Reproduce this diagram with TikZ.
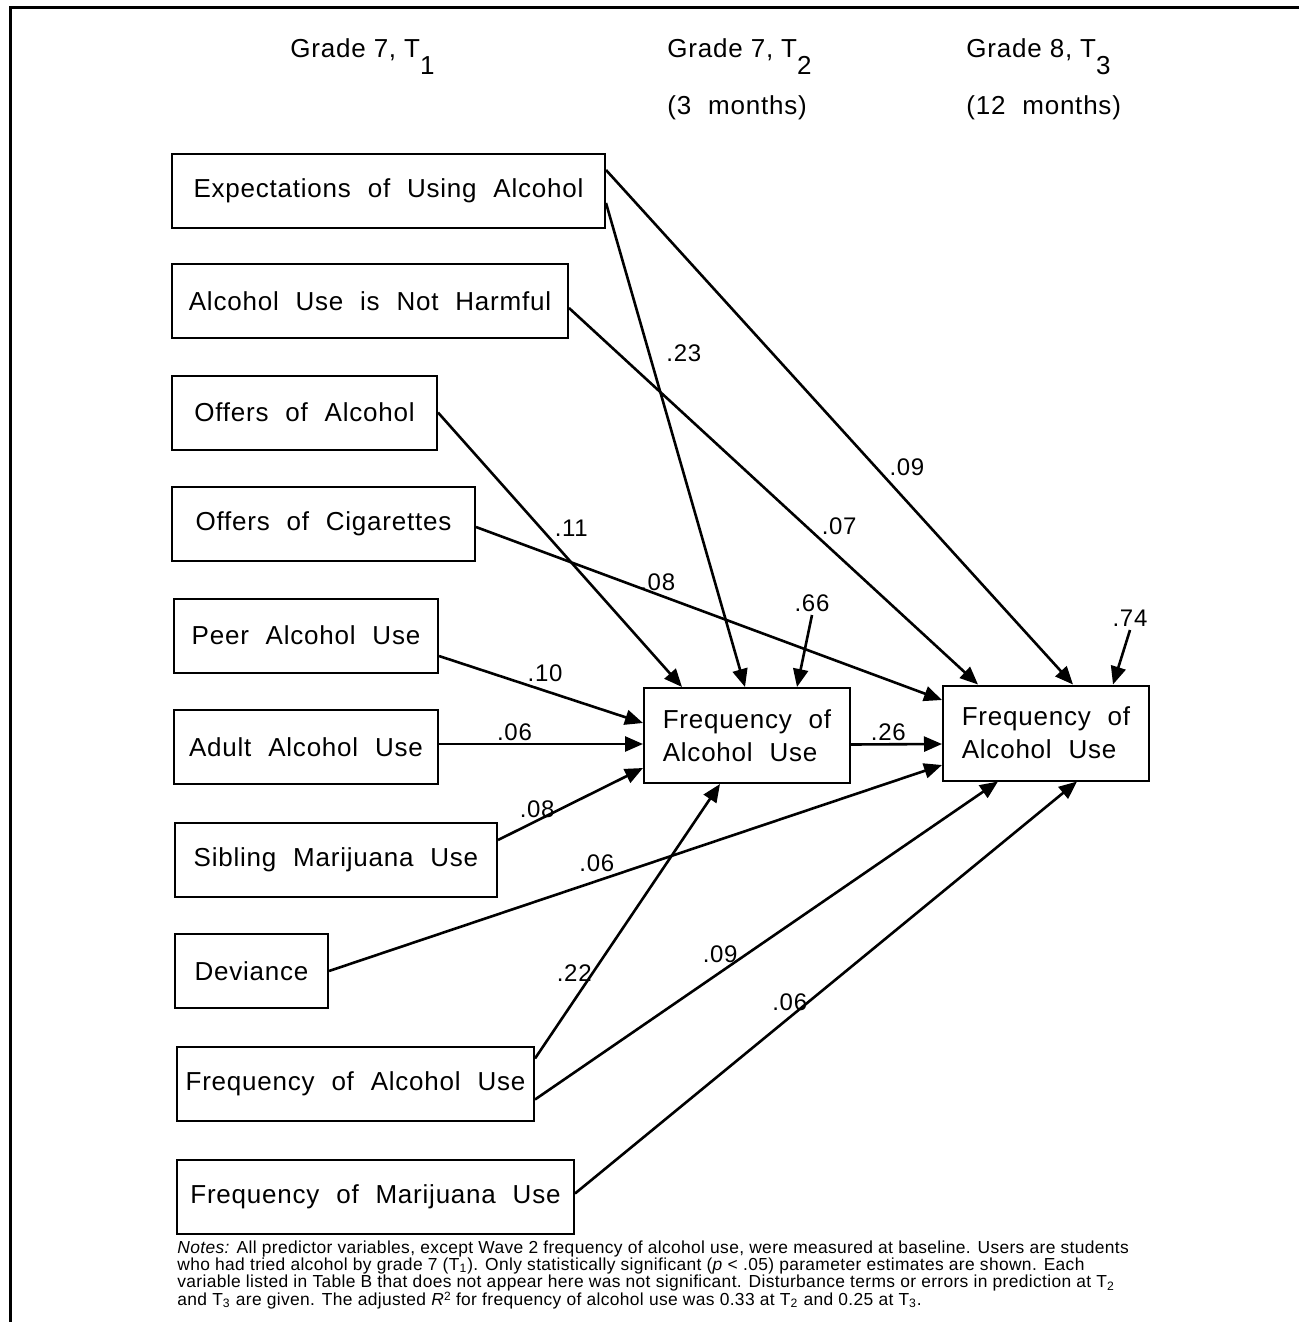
\documentclass[tikz,border=0pt]{standalone}
\usepackage{fontspec}
\setmainfont{Liberation Sans}[LetterSpace=3]
\newfontfamily\boxfont{Liberation Sans}[LetterSpace=3,WordSpace=2.1]
\newfontfamily\notefont{Liberation Sans}[LetterSpace=2]
\newcommand\notesize{\notefont\fontsize{8.7}{8.7}\selectfont\lineskiplimit=-10pt\relax}
\newcommand\sqsup{\raisebox{2.3pt}{\fontsize{6}{6}\selectfont 2}}
\usetikzlibrary{arrows.meta,positioning}

\begin{document}
\begin{tikzpicture}[x=0.5pt,y=-0.5pt,
	var/.style={draw,line width=1pt,minimum height=37pt,inner sep=0pt,font=\boxfont\fontsize{13}{16.5}\selectfont},
	freq/.style={var,minimum width=103pt,minimum height=47.5pt,align=left},
	head/.style={anchor=base west,inner sep=0pt,font=\fontsize{13}{14}\selectfont},
	path/.style={line width=1.3pt,-{Triangle[length=9pt,width=7.5pt]}},
	coef/.style={font=\fontsize{12}{14}\selectfont,inner sep=1pt}]
		\useasboundingbox (0,0) rectangle (1299,1322);
		\draw[line width=1.5pt] (10,1322)--(10,8)--(1299,8);
		% time points
		\node[head] (gradeone) at (290,58) {Grade 7, T\raisebox{-8.5pt}{1}};
		\node[head] (gradetwo) at (667,58) {Grade 7, T\raisebox{-8.5pt}{2}};
		\node[head,font=\boxfont\fontsize{13}{14}\selectfont] (monthstwo) at (667,115) {(3 months)};
		\node[head] (gradethree) at (966,58) {Grade 8, T\raisebox{-8.5pt}{3}};
		\node[head,font=\boxfont\fontsize{13}{14}\selectfont] (monthsthree) at (966,115) {(12 months)};
		% predictors
		\node[var,minimum width=216.5pt] (expect) at (388.5,191) {Expectations of Using Alcohol};
		\node[var,minimum width=198pt] (harm) at (370,301) {Alcohol Use is Not Harmful};
		\node[var,minimum width=132.5pt] (offalc) at (304.5,412.5) {Offers of Alcohol};
		\node[var,minimum width=151.5pt] (offcig) at (323.5,524) {Offers of Cigarettes};
		\node[var,minimum width=132pt] (peer) at (306,635.5) {Peer Alcohol Use};
		\node[var,minimum width=132pt] (adult) at (306,747) {Adult Alcohol Use};
		\node[var,minimum width=161pt] (sibmar) at (336,859.5) {Sibling Marijuana Use};
		\node[var,minimum width=76.5pt] (dev) at (251.5,971) {Deviance};
		\node[var,minimum width=178.5pt] (freqalc) at (355.5,1083.5) {Frequency of Alcohol Use};
		\node[var,minimum width=198.5pt] (freqmar) at (375.5,1196.5) {Frequency of Marijuana Use};
		% outcomes
		\node[freq] (alctwo) at (747,735.5) {Frequency of\\Alcohol Use};
		\node[freq] (alcthree) at (1046,733) {Frequency of\\Alcohol Use};
		\coordinate (dtwo) at (812,615);
		\coordinate (dthree) at (1130,630);
		% paths
		\draw[path] ([yshift=10.5pt]expect.east) -- ([xshift=13.5pt]alcthree.north) node[coef,pos=.6,above right]{.09};
		\draw[path] ([yshift=-6pt]expect.east) -- ([xshift=-1pt]alctwo.north) node[coef,pos=.31,right=7pt]{.23};
		\draw[path] ([yshift=-3.5pt]harm.east) -- ([xshift=-34pt]alcthree.north) node[coef,pos=.61,above right]{.07};
		\draw[path] (offalc.east) -- ([xshift=-32.5pt]alctwo.north) node[coef,pos=.465,above right]{.11};
		\draw[path] ([yshift=-1.5pt]offcig.east) -- ([yshift=16.5pt]alcthree.west) node[coef,pos=.39,above]{.08};
		\draw[path] ([yshift=-10.25pt]peer.east) -- ([yshift=6.25pt]alctwo.west) node[coef,pos=.52,above=3pt]{.10};
		\draw[path] ([yshift=1.5pt]adult.east) -- ([yshift=-4.25pt]alctwo.west) node[coef,pos=.37,above]{.06};
		\draw[path] ([yshift=9.75pt]sibmar.east) -- ([yshift=-16.25pt]alctwo.west) node[coef,pos=.27,above]{.08};
		\draw[path] (dev.east) -- ([yshift=-16pt]alcthree.west) node[coef,pos=.437,above=3pt]{.06};
		\draw[path] ([yshift=12.5pt]freqalc.east) -- ([xshift=-13.5pt]alctwo.south) node[coef,pos=.27,above left=0pt and -5pt]{.22};
		\draw[path] ([yshift=-8pt]freqalc.east) -- ([xshift=-24pt]alcthree.south) node[coef,pos=.40,above=3pt]{.09};
		\draw[path] ([yshift=1.5pt]freqmar.east) -- ([xshift=15.5pt]alcthree.south) node[coef,pos=.465,left=-1pt]{.06};
		\draw[path] ([yshift=-4.5pt]alctwo.east) -- ([yshift=-5.5pt]alcthree.west) node[coef,pos=.41,above]{.26};
		% disturbances
		\draw[path] (dtwo) -- ([xshift=25pt]alctwo.north) node[coef,pos=0,above]{.66};
		\draw[path] (dthree) -- ([xshift=33.5pt]alcthree.north) node[coef,pos=0,above]{.74};
		% notes
		\node[anchor=north west,inner sep=0pt,align=left,font=\notesize] (notes) at (177,1240) {\textit{Notes:} All predictor variables, except Wave 2 frequency of alcohol use, were measured at baseline. Users are students\\
		who had tried alcohol by grade 7 (T\textsubscript{1}). Only statistically significant (\textit{p} < .05) parameter estimates are shown. Each\\
		variable listed in Table B that does not appear here was not significant. Disturbance terms or errors in prediction at T\textsubscript{2}\\
		and T\textsubscript{3} are given. The adjusted \textit{R}\sqsup{} for frequency of alcohol use was 0.33 at T\textsubscript{2} and 0.25 at T\textsubscript{3}.};
\end{tikzpicture}
\end{document}
